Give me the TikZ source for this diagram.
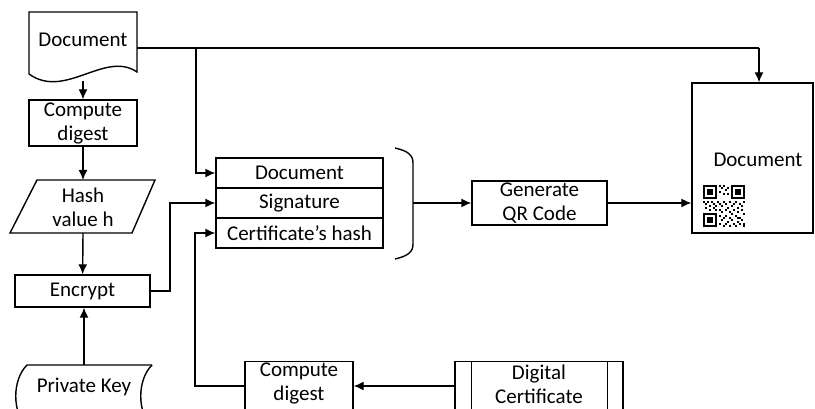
\documentclass[tikz,border=0pt]{standalone}
\usepackage{fontspec}
\setmainfont{Carlito}
\usepackage{tikz}
\usetikzlibrary{calc}
\usetikzlibrary{arrows.meta}
\tikzset{>=latex}
\tikzset{box/.style = {shape=rectangle,draw,inner sep=0pt,align=center}}
\tikzset{label/.style = {inner sep=0pt,align=center}}
\tikzset{flow/.style = {-{Latex[length=10pt,width=9pt]},line width=1.4pt}}
\begin{document}
\begin{tikzpicture}[x=1pt,y=-1pt,line width=1.4pt,
                    every node/.style={font=\fontsize{21}{24}\selectfont}]
                    \useasboundingbox (0,0) rectangle (815,409);
                    \clip (0,0) rectangle (815,409);

                    % left column
                    \draw (29,12) -- (137,12) -- (137,72)
                          .. controls (105,50) and (65,100) .. (29,74) -- cycle;
                    \node[label] (doc) at (83,40) {Document};
                    \coordinate (docbot) at (83,81);
                    \node[box,minimum width=108pt,minimum height=46pt] (cd1) at (83,123) {Compute\\digest};
                    \draw (37,180) -- (155,180) -- (132,233) -- (10,233) -- cycle;
                    \node[label] (hash) at (83,207) {Hash\\value h};
                    \node[box,minimum width=135pt,minimum height=32pt] (enc) at (82.5,291) {Encrypt};
                    \draw (152,365) -- (27,365) .. controls (12,380) and (12,412) .. (27,428);
                    \draw (152,365) .. controls (137,380) and (137,412) .. (152,428);
                    \node[label] (key) at (84,387) {Private Key};

                    % record
                    \node[box,minimum width=167pt,minimum height=30pt] (docrow) at (299.5,173) {Document};
                    \node[box,minimum width=167pt,minimum height=31pt] (sigrow) at (299.5,203) {Signature};
                    \node[box,minimum width=167pt,minimum height=30pt] (certrow) at (299.5,233) {Certificate’s hash};
                    \draw (395,148) .. controls (408,151) and (413,155) .. (413,163) -- (413,244)
                          .. controls (413,252) and (408,256) .. (395,259);
                    \coordinate (brace) at (413,203);

                    % right part
                    \node[box,minimum width=135pt,minimum height=44pt] (gen) at (539.5,203) {Generate\\QR Code};
                    \node[box,minimum width=121pt,minimum height=150pt] (final) at (752.5,158) {};
                    \node[label] (finaltext) at (758,160) {Document};
                    \node[box,minimum width=108pt,minimum height=49pt] (cd2) at (299,386) {};
                    \node[label] (cd2text) at (299,383.5) {Compute\\digest};
                    \node[box,minimum width=168pt,minimum height=49pt] (cert) at (539,386) {};
                    \node[label] (certtext) at (539,384) {Digital\\Certificate};
                    \draw ($(cert.north west)+(17,0)$) -- ($(cert.south west)+(17,0)$);
                    \draw ($(cert.north east)+(-16,0)$) -- ($(cert.south east)+(-16,0)$);

                    % qr code
                    \foreach \qx/\qy in {703/185,731/185,703/213}{
                        \fill (\qx,\qy) rectangle ++(14,14);
                        \fill[white] (\qx+2,\qy+2) rectangle ++(10,10);
                        \fill (\qx+4,\qy+4) rectangle ++(6,6);
                    }
                    \foreach \c/\r in {8/0,9/1,10/0,11/2,12/1,8/3,10/4,12/4,
                                       0/8,1/9,2/8,3/10,4/8,5/9,6/10,7/8,8/9,9/10,10/8,
                                       11/9,12/11,13/8,14/10,15/9,16/8,17/11,18/9,19/10,20/8,
                                       1/11,3/12,5/11,6/12,8/12,9/13,11/12,13/13,15/12,17/13,
                                       19/12,20/14,8/15,10/16,11/15,13/16,14/14,16/15,18/16,
                                       9/17,12/18,14/17,15/19,17/18,19/17,20/19,8/19,10/20,
                                       13/20,16/20,18/19,20/20,11/19,17/16}
                        \fill (703+2*\c,185+2*\r) rectangle ++(2,2);

                    % connectors
                    \draw[flow] (docbot) -- (cd1);
                    \draw[flow] (cd1) -- (83,180);
                    \draw[flow] (83,233) -- (enc);
                    \draw[flow] (84,365) -- (enc.south -| 84,0);
                    \draw[flow] (enc.east) -- (170,291) -- (170,203) -- (sigrow.west);
                    \draw (137,48) -- (759,48);
                    \draw[flow] (759,48) -- (final.north -| 759,0);
                    \draw[flow] (196,48) -- (196,173) -- (docrow.west);
                    \draw[flow] (cd2.west) -- (195,386) -- (195,233) -- (certrow.west);
                    \draw[flow] (cert) -- (cd2);
                    \draw[flow] (brace) -- (gen);
                    \draw[flow] (gen) -- (gen -| final.west);
\end{tikzpicture}
\end{document}
